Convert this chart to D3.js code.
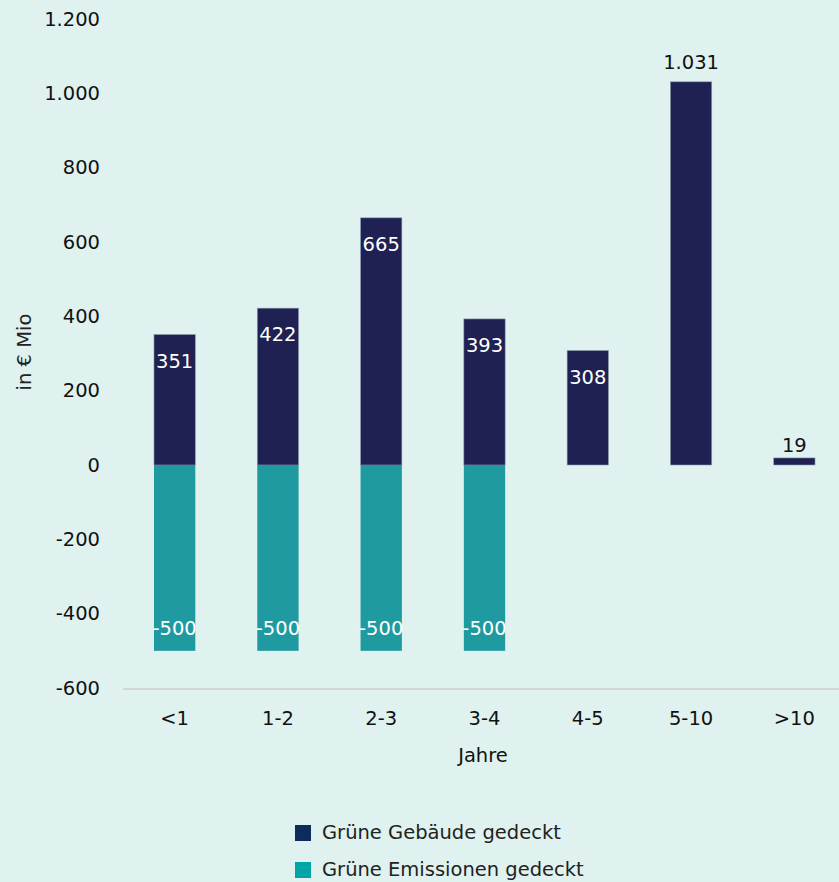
<!DOCTYPE html>
<html lang="de">
<head>
<meta charset="utf-8">
<title>Laufzeiten</title>
<script src="https://d3js.org/d3.v7.min.js"></script>
<style>
  html, body { margin: 0; padding: 0; background: #dff2ef; }
  svg { display: block; font-family: "DejaVu Sans", sans-serif; }
</style>
</head>
<body>
<div id="chart"></div>
<script>
  var categories = ['<1', '1-2', '2-3', '3-4', '4-5', '5-10', '>10'];
  var gebaeude = [351, 422, 665, 393, 308, 1031, 19];
  var emissionen = [-500, -500, -500, -500, null, null, null];
  var yTicks = [1200, 1000, 800, 600, 400, 200, 0, -200, -400, -600];
  var seriesNames = ['Grüne Gebäude gedeckt', 'Grüne Emissionen gedeckt'];

  var w = 839, h = 882;
  var navy = '#1e2152', teal = '#1f9aa0';
  var fs = 19.5;

  var svg = d3.select('#chart').append('svg')
    .attr('width', w).attr('height', h);

  var fmt = function(v) {
    var s = d3.format(',')(v).replace(/,/g, '.');
    return s.replace('−', '-');
  };

  var x = d3.scaleBand().domain(categories).range([123, 846]).paddingInner(0.6).paddingOuter(0.3);
  var y = d3.scaleLinear().domain([-600, 1200]).range([688, 19]);

  // y axis labels
  var yAxis = d3.axisLeft(y).tickValues(yTicks).tickSize(0).tickPadding(0)
    .tickFormat(fmt);
  var ya = svg.append('g').attr('transform', 'translate(100,0)').call(yAxis);
  ya.select('.domain').remove();
  ya.selectAll('text').attr('font-size', fs).attr('fill', '#111')
    .attr('font-family', '"DejaVu Sans", sans-serif');

  // baseline at bottom
  svg.append('line')
    .attr('x1', 123).attr('x2', w)
    .attr('y1', y(-600) + 1).attr('y2', y(-600) + 1)
    .attr('stroke', '#d3d6d6').attr('stroke-width', 2);

  // x axis labels
  var xAxis = d3.axisBottom(x).tickSize(0).tickPadding(0);
  var xa = svg.append('g').attr('transform', 'translate(0,' + 711 + ')').call(xAxis);
  xa.select('.domain').remove();
  xa.selectAll('text').attr('font-size', fs).attr('fill', '#111')
    .attr('font-family', '"DejaVu Sans", sans-serif');

  svg.append('text').attr('x', 483).attr('y', 762).attr('text-anchor', 'middle')
    .attr('font-size', fs).attr('fill', '#111').text('Jahre');

  svg.append('text')
    .attr('transform', 'translate(31,' + 352 + ') rotate(-90)')
    .attr('text-anchor', 'middle').attr('font-size', fs).attr('fill', '#222')
    .text('in € Mio');

  // positive bars
  var posData = categories.map(function(c, i) { return {cat: c, v: gebaeude[i]}; });
  var negData = categories.map(function(c, i) { return {cat: c, v: emissionen[i]}; })
    .filter(function(d) { return d.v !== null; });

  svg.selectAll('.pos').data(posData).enter().append('rect')
    .attr('class', 'pos')
    .attr('x', function(d) { return x(d.cat); })
    .attr('width', x.bandwidth())
    .attr('y', function(d) { return y(d.v); })
    .attr('height', function(d) { return y(0) - y(d.v); })
    .attr('fill', navy)
    .attr('stroke', '#8f9bb0').attr('stroke-width', 0.6);

  svg.selectAll('.neg').data(negData).enter().append('rect')
    .attr('class', 'neg')
    .attr('x', function(d) { return x(d.cat); })
    .attr('width', x.bandwidth())
    .attr('y', y(0))
    .attr('height', function(d) { return y(d.v) - y(0); })
    .attr('fill', teal);

  // value labels
  var inside = function(d) { return y(0) - y(d.v) > 60 && d.v < 1000; };
  svg.selectAll('.plabel').data(posData).enter().append('text')
    .attr('class', 'plabel')
    .attr('x', function(d) { return x(d.cat) + x.bandwidth() / 2; })
    .attr('y', function(d) {
      if (inside(d)) return y(d.v) + 33;
      return y(d.v) - (d.v > 100 ? 13 : 6);
    })
    .attr('text-anchor', 'middle').attr('font-size', fs)
    .attr('fill', function(d) { return inside(d) ? '#fff' : '#111'; })
    .text(function(d) { return fmt(d.v); });

  svg.selectAll('.nlabel').data(negData).enter().append('text')
    .attr('class', 'nlabel')
    .attr('x', function(d) { return x(d.cat) + x.bandwidth() / 2; })
    .attr('y', function(d) { return y(d.v) - 16; })
    .attr('text-anchor', 'middle').attr('font-size', fs).attr('fill', '#fff')
    .text(function(d) { return fmt(d.v); });

  // legend
  var legColors = ['#0c2c5c', '#00a5a5'];
  var leg = svg.selectAll('.leg').data(seriesNames).enter().append('g')
    .attr('class', 'leg')
    .attr('transform', function(d, i) { return 'translate(295,' + (825 + i * 37) + ')'; });
  leg.append('rect').attr('width', 16).attr('height', 16)
    .attr('fill', function(d, i) { return legColors[i]; });
  leg.append('text').attr('x', 27).attr('y', 14).attr('font-size', 19.5)
    .attr('fill', '#222').text(function(d) { return d; });
</script>
</body>
</html>
